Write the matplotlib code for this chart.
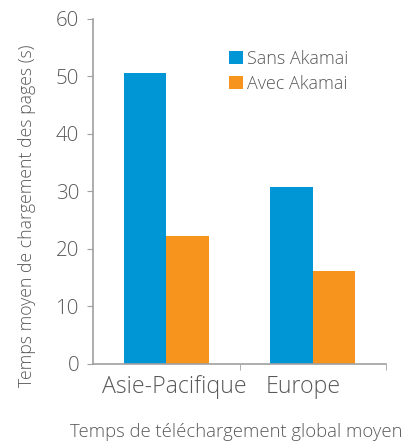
import numpy as np
import matplotlib
matplotlib.use('Agg')
import matplotlib.pyplot as plt
import matplotlib.transforms as mtransforms

# data
regions = ['Asie-Pacifique', 'Europe']
sans_akamai = [50.6, 30.8]
avec_akamai = [22.3, 16.2]
series_names = ['Sans Akamai', 'Avec Akamai']
y_ticks = [0, 10, 20, 30, 40, 50, 60]

blue = '#0096d6'
orange = '#f7941e'
grey = '#595959'

plt.rcParams['font.family'] = ['Open Sans', 'DejaVu Sans']
plt.rcParams['font.weight'] = 'light'
plt.rcParams['axes.labelweight'] = 'light'

fig = plt.figure(figsize=(4.13, 4.47), dpi=100)
ax = fig.add_axes([0.225, 0.186, 0.71, 0.772])

x = np.arange(len(regions))
w = 0.29
ax.bar(x - w / 2, sans_akamai, w, color=blue, label=series_names[0])
ax.bar(x + w / 2, avec_akamai, w, color=orange, label=series_names[1])

ax.set_xlim(-0.5, 1.5)
ax.set_ylim(0, 60)
ax.set_yticks(y_ticks)
ax.set_xticks(x)
ax.set_xticklabels(regions, fontsize=16.7, color=grey)
ax.set_xticks([0.5, 1.5], minor=True)
ax.tick_params(axis='x', which='major', length=0, pad=8)
ax.tick_params(axis='x', which='minor', length=4, color='#a0a0a0')
ax.tick_params(axis='y', length=4, color='#a0a0a0', labelsize=14.8, labelcolor=grey, pad=6)

# the category labels sit a little off-centre in the original
for lab, dx in zip(ax.get_xticklabels(), [8, -10]):
    lab.set_transform(lab.get_transform() +
                      mtransforms.ScaledTranslation(dx / 100, 0, fig.dpi_scale_trans))

for s in ['top', 'right']:
    ax.spines[s].set_visible(False)
for s in ['left', 'bottom']:
    ax.spines[s].set_color('#a0a0a0')
    ax.spines[s].set_linewidth(1.2)

ax.set_ylabel('Temps moyen de chargement des pages (s)', fontsize=12.7, color=grey)
ax.yaxis.set_label_coords(-0.195, 0.43)
fig.text(0.573, 0.033, 'Temps de téléchargement global moyen', fontsize=13.3,
         color=grey, ha='center', va='center')

leg = ax.legend(loc='upper left', bbox_to_anchor=(0.41, 0.957), frameon=False,
                handlelength=0.75, handleheight=0.75, handletextpad=0.2,
                labelspacing=0.4, fontsize=13)
for t in leg.get_texts():
    t.set_color(grey)

fig.savefig('out.png', dpi=100)
